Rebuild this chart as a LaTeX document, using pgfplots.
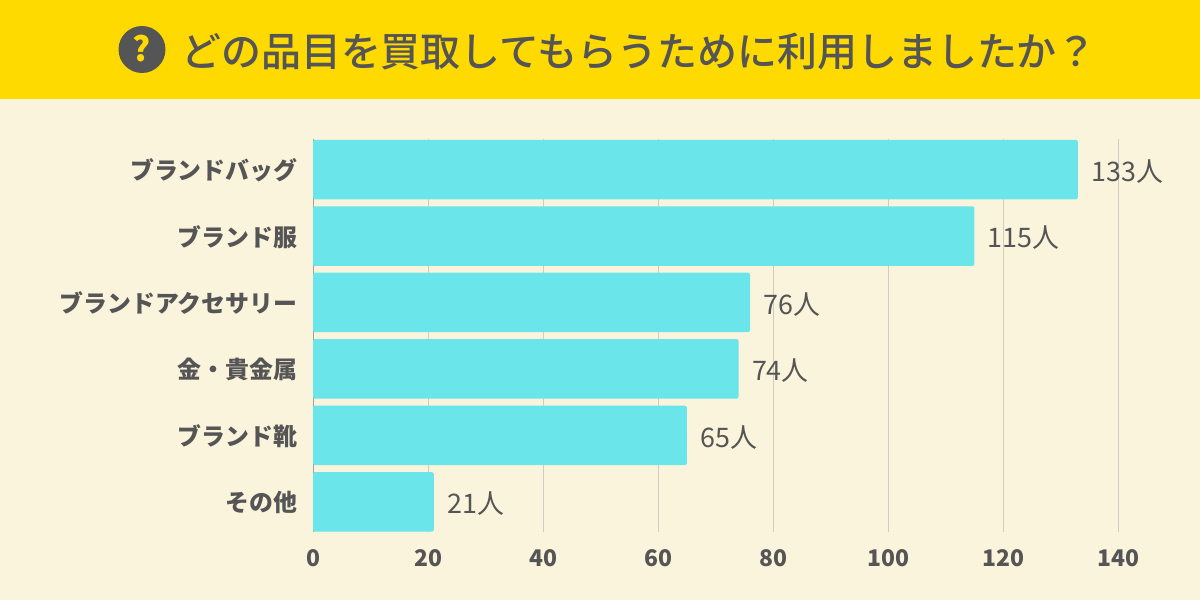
\documentclass[border=0pt]{standalone}
\usepackage{pgfplots}
\pgfplotsset{compat=1.18}
\usepackage{fontspec}
\setmainfont{Noto Sans CJK JP}
\newfontfamily\cjkmed{Noto Sans CJK JP Medium}
\definecolor{bg}{HTML}{FBF4DC}
\definecolor{ban}{HTML}{FFDA00}
\definecolor{bar}{HTML}{6AE6EA}
\definecolor{txt}{HTML}{555555}
\definecolor{gr}{HTML}{CFCDC0}
\begin{document}
\begin{tikzpicture}[x=1bp,y=-1bp]
\fill[bg] (0,0) rectangle (1200,600);
\fill[ban] (0,0) rectangle (1200,99);
\fill[txt] (142,49.5) circle (23.5);
\node[text=ban,font=\bfseries\fontsize{34}{34}\selectfont] at (142,48.5) {?};
\node[anchor=west,text=txt,font=\cjkmed\fontsize{40.1}{40}\selectfont,inner sep=0pt] at (181,52) {どの品目を買取してもらうために利用しましたか？};
\begin{axis}[
 at={(313bp,-532bp)},anchor=south west,
 width=805bp,height=393bp,scale only axis,
 xmin=0,xmax=140,ymin=-0.46,ymax=5.455,y dir=reverse,
 axis x line*=bottom,axis y line*=left,
 x axis line style={draw=none},
 y axis line style={draw=gray!70!bg,line width=1bp},
 xtick={0,20,...,140},
 ytick={0,1,2,3,4,5},
 yticklabels={ブランドバッグ,ブランド服,ブランドアクセサリー,金・貴金属,ブランド靴,その他},
 major tick length=0pt,
 xmajorgrids,grid style={gr,line width=1bp},
 tick label style={text=txt,font=\bfseries\fontsize{23}{23}\selectfont},
 /pgf/number format/assume math mode=true,
 xticklabel style={yshift=-14bp,xshift=0.7bp},
 yticklabel style={xshift=-12bp,yshift=-0.8bp,font=\bfseries\fontsize{24}{24}\selectfont},
 clip=false,
 nodes near coords={\pgfmathprintnumber{\pgfplotspointmeta}人},
 point meta=x,
 nodes near coords style={text=txt,anchor=west,font=\fontsize{27}{27}\selectfont,xshift=10bp,yshift=-1.8bp},
]
\addplot[xbar,bar width=59.5bp,fill=bar,draw=none,rounded corners=1.5bp,bar shift=0pt] coordinates {(133,0)(115,1)(76,2)(74,3)(65,4)(21,5)};
\end{axis}
\end{tikzpicture}
\end{document}
